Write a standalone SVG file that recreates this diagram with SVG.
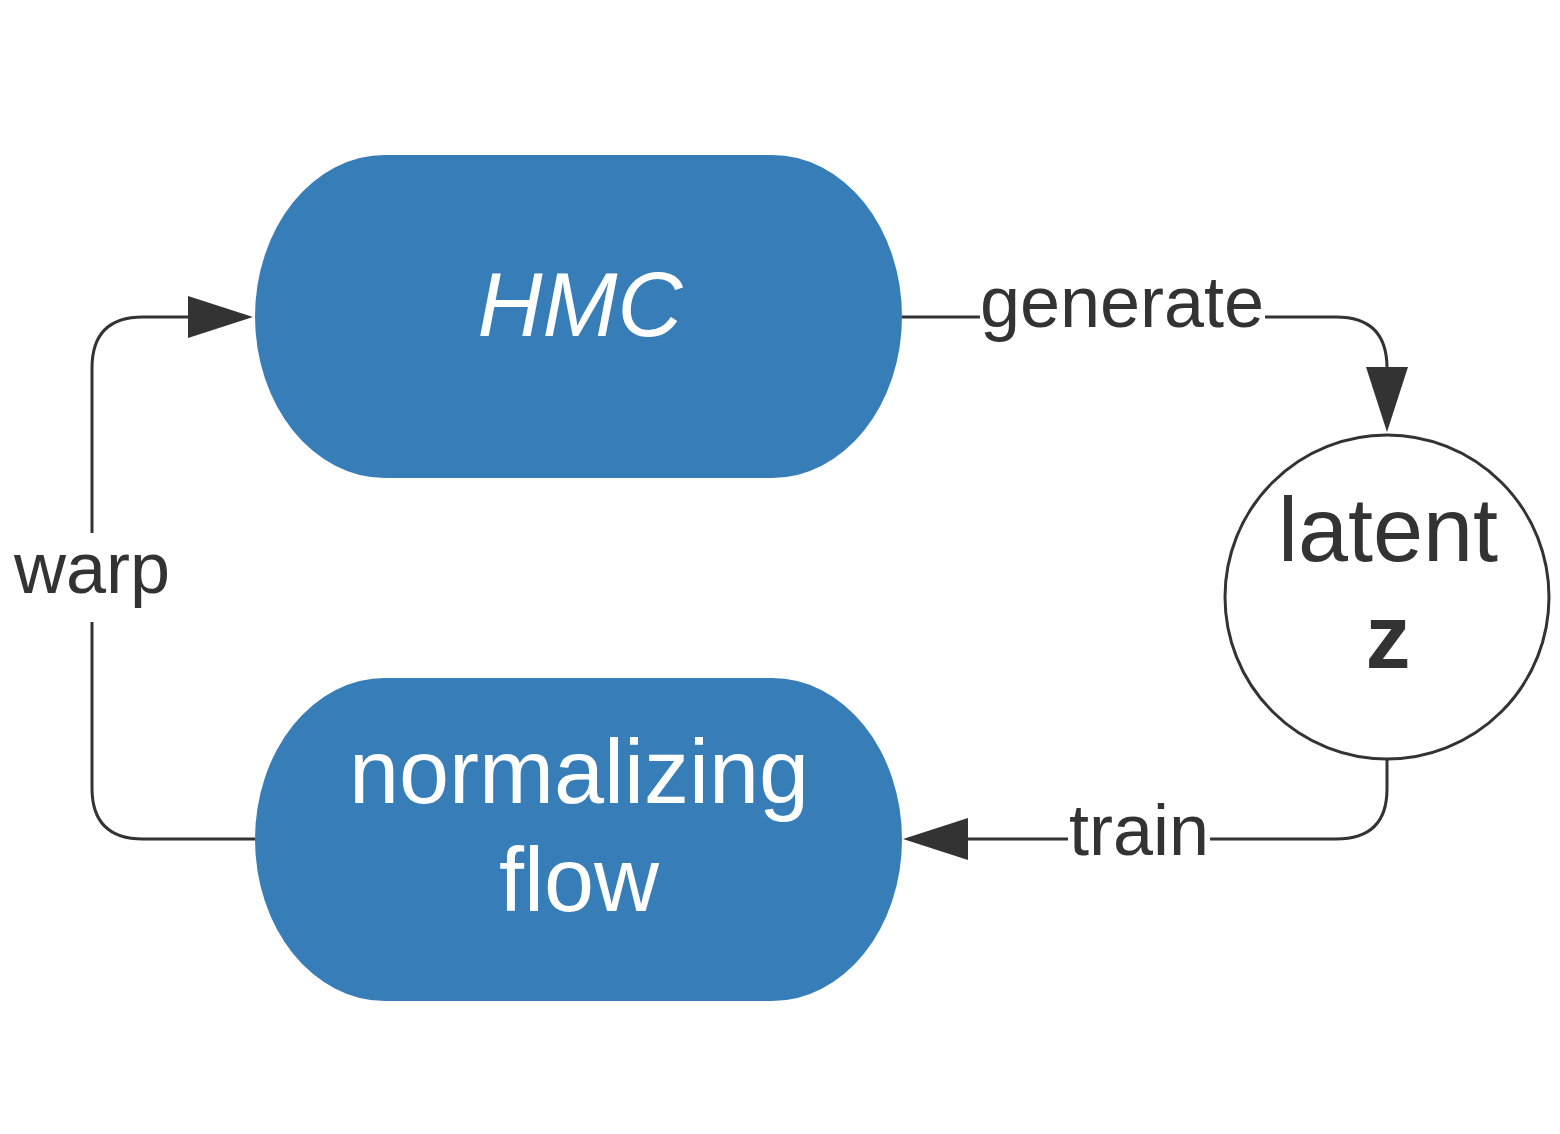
<svg xmlns="http://www.w3.org/2000/svg" width="1560" height="1134" viewBox="0 0 1560 1134">
<defs>
<style>
.node{fill:#377eb8;}
.ntext{font-family:"Liberation Sans",Arial,sans-serif;font-size:90px;fill:#ffffff;text-anchor:middle;}
.ctext{font-family:"Liberation Sans",Arial,sans-serif;font-size:90px;fill:#333333;text-anchor:middle;}
.edge{fill:none;stroke:#333333;stroke-width:3;}
.elabel{font-family:"Liberation Sans",Arial,sans-serif;font-size:72px;fill:#333333;text-anchor:middle;}
.arrow{fill:#333333;}
</style>
</defs>
<rect width="1560" height="1134" fill="#ffffff"/>
<g id="connectors">
<g id="edge-generate">
<path class="edge" d="M902,317 H980 M1265,317 H1336 Q1387,317 1387,368 V370"/>
<polygon class="arrow" points="1366,367 1408,367 1387,432"/>
<text class="elabel" x="1122" y="327">generate</text>
</g>
<g id="edge-train">
<path class="edge" d="M1387,759 V789 Q1387,839 1336,839 H1210 M1068,839 H966"/>
<polygon class="arrow" points="968,818 968,860 903,839"/>
<text class="elabel" x="1139" y="855">train</text>
</g>
<g id="edge-warp">
<path class="edge" d="M255,839 H143 Q92,839 92,788 V622 M92,533 V368 Q92,317 143,317 H190"/>
<polygon class="arrow" points="188,296 188,338 253,317"/>
<text class="elabel" x="92" y="593">warp</text>
</g>
</g>
<g id="node-hmc">
<rect class="node" x="255" y="155" width="647" height="323" rx="130" ry="161.5"/>
<text class="ntext" x="580" y="336" font-style="italic">HMC</text>
</g>
<g id="node-flow">
<rect class="node" x="255" y="678" width="647" height="323" rx="130" ry="161.5"/>
<text class="ntext" x="579" y="803">normalizing</text>
<text class="ntext" x="579" y="911">flow</text>
</g>
<g id="node-latent">
<circle cx="1387" cy="597" r="162" fill="#ffffff" stroke="#333333" stroke-width="3"/>
<text class="ctext" x="1388" y="561">latent</text>
<text class="ctext" x="1388" y="668" font-weight="bold">z</text>
</g>
</svg>
